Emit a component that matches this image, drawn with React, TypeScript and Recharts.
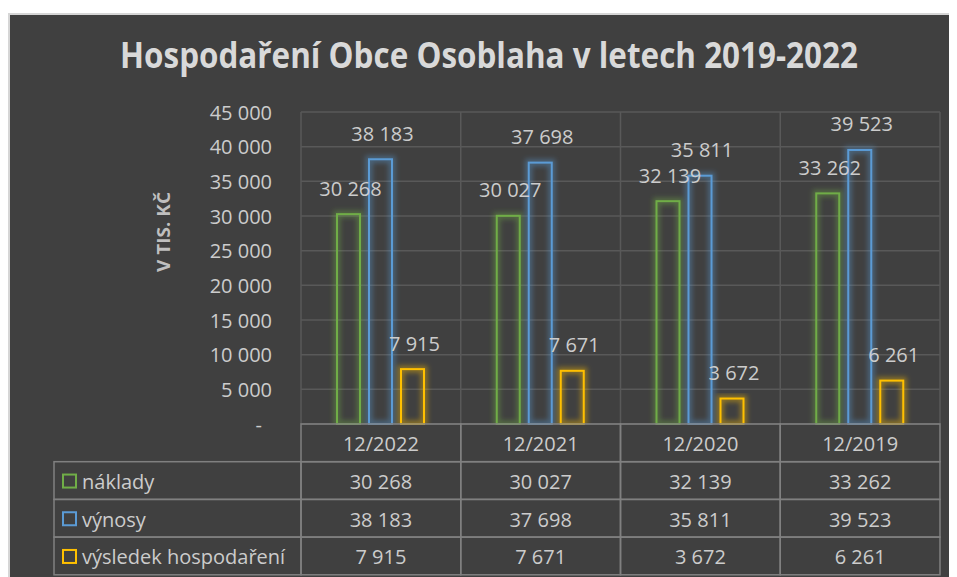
import { BarChart, Bar, XAxis, YAxis, CartesianGrid, LabelList, Customized } from 'recharts';

const categories = ['12/2022', '12/2021', '12/2020', '12/2019'];
const naklady = [30268, 30027, 32139, 33262];
const vynosy = [38183, 37698, 35811, 39523];
const vysledek = [7915, 7671, 3672, 6261];
const yTicks = [0, 5000, 10000, 15000, 20000, 25000, 30000, 35000, 40000, 45000];

const series = [
  { key: 'naklady', name: 'náklady', color: '#70ad47', values: naklady },
  { key: 'vynosy', name: 'výnosy', color: '#5b9bd5', values: vynosy },
  { key: 'vysledek', name: 'výsledek hospodaření', color: '#ffc000', values: vysledek },
];

const data = categories.map((cat, i) => ({
  cat,
  naklady: naklady[i],
  vynosy: vynosy[i],
  vysledek: vysledek[i],
}));

// layout
const W = 947;
const H = 562;
const MARGIN = { top: 97, right: 17, left: 0, bottom: 0 };
const Y_W = 291;
const X_H = 153;
const COL_W = (W - Y_W - MARGIN.right) / 4;
const ROW_H = 37.7;
const LEG_LEFT = 44;

const TEXT = '#cccccc';
const TABLE_LINE = '#808080';
const GRID = '#595959';
const FONT = '"Open Sans", "Noto Sans", sans-serif';

if (typeof document !== 'undefined') document.body.style.overflow = 'hidden';

const fmt = (n: number) => String(n).replace(/\B(?=(\d{3})+(?!\d))/g, ' ');

function GlowBar(props: any) {
  const { x, y, width, height, color } = props;
  if (!height || height <= 0) return null;
  return (
    <g>
      <rect x={x} y={y} width={width} height={height} fill="none" stroke={color}
        strokeWidth={7} strokeOpacity={0.4} filter="url(#barGlow)" clipPath="url(#plotClip)" />
      <rect x={x} y={y} width={width} height={height} fill="none" stroke={color} strokeWidth={2} />
    </g>
  );
}

function YTick({ x, y, payload }: any) {
  const zero = payload.value === 0;
  return (
    <text x={zero ? x - 39 : x - 29} y={y} textAnchor="end" dominantBaseline="central"
      fill={TEXT} fontSize={20}>
      {zero ? '-' : fmt(payload.value)}
    </text>
  );
}

function TableColumn({ x, y, payload, index }: any) {
  const left = x - COL_W / 2;
  const cells = [payload.value, ...series.map((s) => fmt(s.values[index]))];
  return (
    <g>
      {cells.map((c, r) => (
        <g key={r}>
          <rect x={left} y={y + r * ROW_H} width={COL_W} height={ROW_H} fill="none"
            stroke={TABLE_LINE} strokeWidth={1.5} />
          <text x={x} y={y + r * ROW_H + ROW_H / 2 + 1} textAnchor="middle" dominantBaseline="central"
            fill={TEXT} fontSize={20}>{c}</text>
        </g>
      ))}
      {index === 0 &&
        series.map((s, i) => {
          const top = y + (i + 1) * ROW_H;
          const cy = top + ROW_H / 2;
          return (
            <g key={s.key}>
              <rect x={LEG_LEFT} y={top} width={left - LEG_LEFT} height={ROW_H} fill="none"
                stroke={TABLE_LINE} strokeWidth={1.5} />
              <rect x={LEG_LEFT + 9} y={cy - 6} width={13} height={13} fill="none"
                stroke={s.color} strokeWidth={2} />
              <text x={LEG_LEFT + 28} y={cy + 1} dominantBaseline="central" fill={TEXT} fontSize={20}>
                {s.name}
              </text>
            </g>
          );
        })}
    </g>
  );
}

function Overlay() {
  return (
    <g>
      <defs>
        <filter id="barGlow" x="-100%" y="-20%" width="300%" height="140%">
          <feGaussianBlur stdDeviation="2.5" />
        </filter>
        <clipPath id="plotClip">
          <rect x={0} y={0} width={W} height={H - X_H} />
        </clipPath>
      </defs>
      <text x={479} y={53} textAnchor="middle" fill="#d9d9d9" fontSize={35} fontWeight="bold"
        textLength={738} lengthAdjust="spacingAndGlyphs">
        Hospodaření Obce Osoblaha v letech 2019-2022
      </text>
      <text x={153} y={217} transform="rotate(-90 153 217)" textAnchor="middle" dominantBaseline="central"
        fill="#bfbfbf" fontSize={18} fontWeight="bold" textLength={80} lengthAdjust="spacingAndGlyphs">
        V TIS. KČ
      </text>
    </g>
  );
}

export default function App() {
  return (
    <div style={{ paddingTop: 5 }}>
      <div
        style={{
          width: 949,
          height: 564,
          background: '#404040',
          borderTop: '2px solid #d6d6d6',
          borderLeft: '2px solid #d6d6d6',
          boxSizing: 'border-box',
          fontFamily: FONT,
        }}
      >
        <BarChart width={W} height={H} data={data} margin={MARGIN} barSize={23} barGap={9}
          style={{ fontFamily: FONT }}>
          <CartesianGrid
            stroke={GRID}
            strokeWidth={1.5}
            verticalCoordinatesGenerator={({ offset }: any) =>
              [0, 1, 2, 3, 4].map((i) => offset.left + (i * offset.width) / 4)
            }
          />
          <XAxis dataKey="cat" height={X_H} axisLine={false} tickLine={false} tickSize={0}
            tickMargin={0} interval={0} tick={<TableColumn />} />
          <YAxis width={Y_W} domain={[0, 45000]} ticks={yTicks} axisLine={false} tickLine={false}
            tickSize={0} tickMargin={0} tick={<YTick />} />
          {series.map((s) => (
            <Bar key={s.key} dataKey={s.key} name={s.name} fill={s.color} isAnimationActive={false}
              shape={(p: any) => <GlowBar {...p} color={s.color} />}>
              <LabelList
                dataKey={s.key}
                content={(p: any) => (
                  <text x={p.x + p.width / 2 + 2} y={p.y - 26} textAnchor="middle"
                    dominantBaseline="central" fill={TEXT} fontSize={20}>
                    {fmt(p.value)}
                  </text>
                )}
              />
            </Bar>
          ))}
          <Customized component={Overlay} />
        </BarChart>
      </div>
    </div>
  );
}
